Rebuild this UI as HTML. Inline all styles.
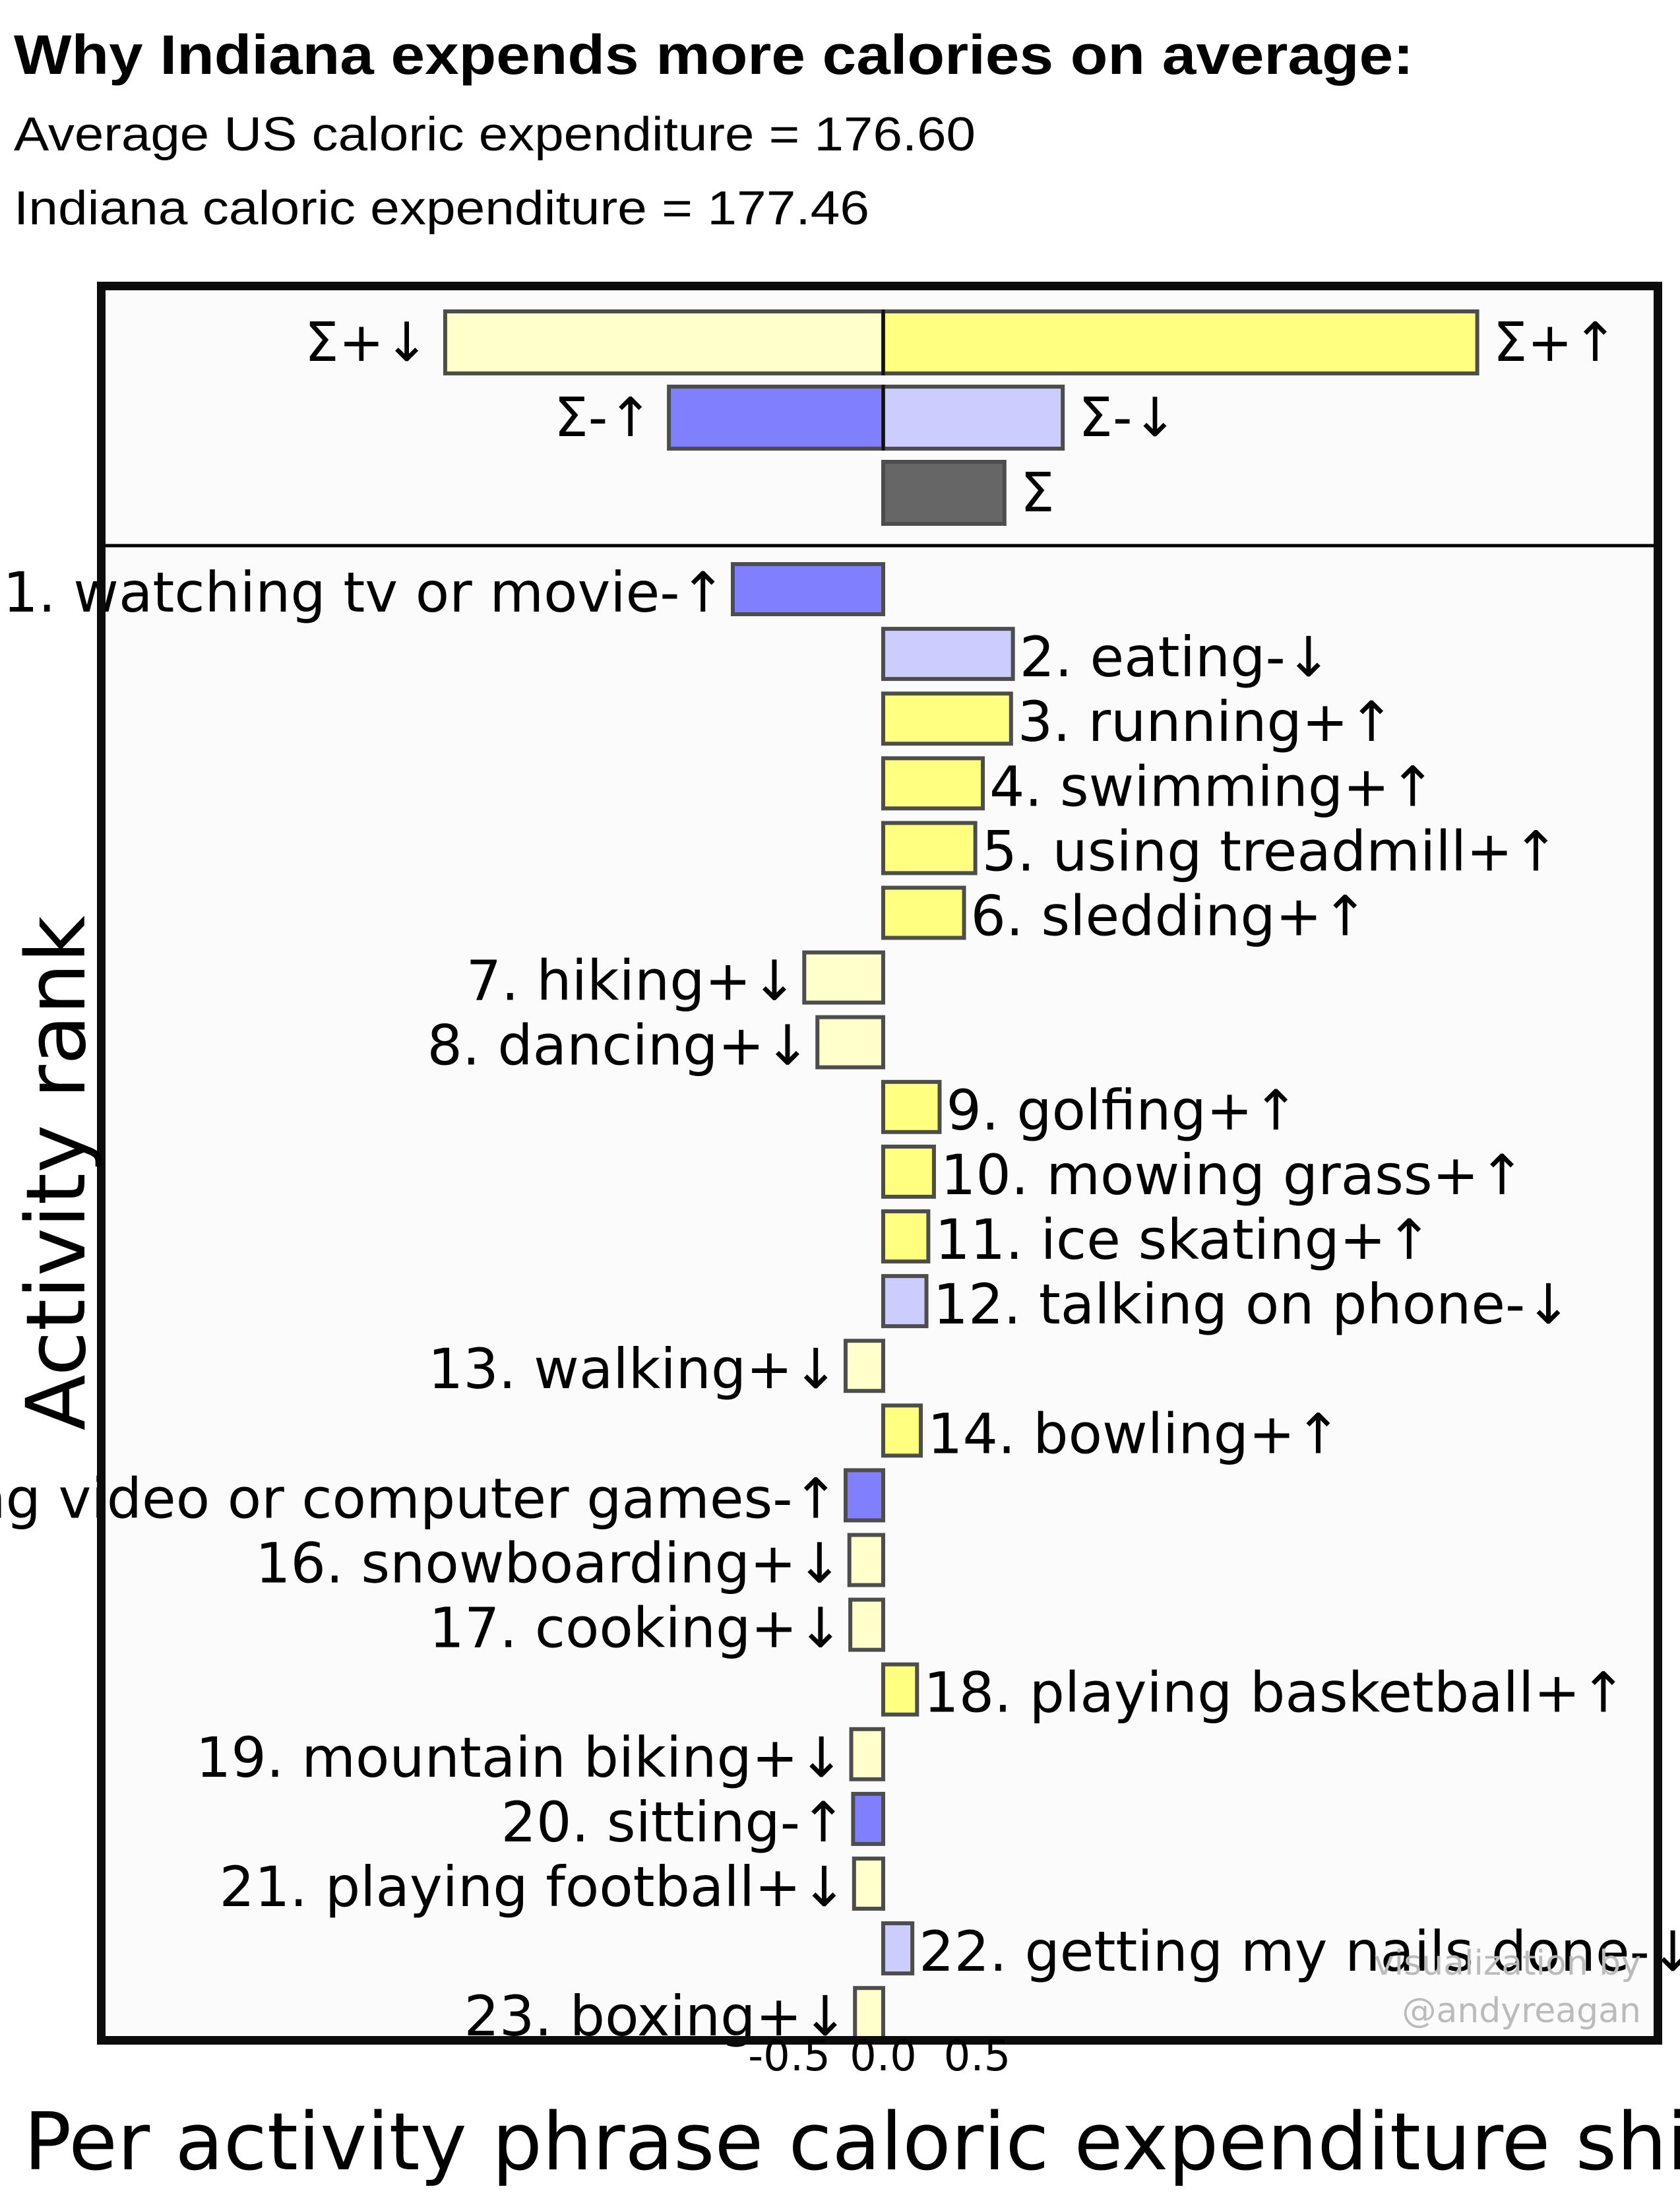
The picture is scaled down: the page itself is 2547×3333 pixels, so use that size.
<!DOCTYPE html>
<html><head><meta charset="utf-8"><style>
html,body{margin:0;padding:0;background:#fff;width:2547px;height:3333px;overflow:hidden}
svg{display:block}
</style></head><body>
<svg id="chart" width="2547" height="3333" xmlns="http://www.w3.org/2000/svg">
<text x="21" y="112" font-family="Liberation Sans, Arial, sans-serif" font-weight="bold" font-size="84" textLength="2122" lengthAdjust="spacingAndGlyphs">Why Indiana expends more calories on average:</text>
<text x="21" y="228" font-family="Liberation Sans, Arial, sans-serif" font-size="72" textLength="1458" lengthAdjust="spacingAndGlyphs">Average US caloric expenditure = 176.60</text>
<text x="21" y="340" font-family="Liberation Sans, Arial, sans-serif" font-size="72" textLength="1297" lengthAdjust="spacingAndGlyphs">Indiana caloric expenditure = 177.46</text>
<rect x="153" y="433" width="2361" height="2660" fill="#fbfbfb"/>
<g id="bars"></g>
<line x1="153" y1="827" x2="2514" y2="827" stroke="#000" stroke-width="5"/>
<rect x="153.5" y="433.5" width="2360" height="2659" fill="none" stroke="#0c0c0c" stroke-width="13"/>
<text x="2488" y="2993" text-anchor="end" font-family="DejaVu Sans, sans-serif" font-size="52" fill="#bbb">visualization by</text>
<text x="2488" y="3065" text-anchor="end" font-family="DejaVu Sans, sans-serif" font-size="52" fill="#bbb">@andyreagan</text>
<g id="ticks"></g>
<text x="36" y="3288" font-family="DejaVu Sans, sans-serif" font-size="120">Per activity phrase caloric expenditure shift</text>
<text transform="translate(128,1778) rotate(-90)" text-anchor="middle" font-family="DejaVu Sans, sans-serif" font-size="124">Activity rank</text>
</svg>
<script>
const activities = ["watching tv or movie","eating","running","swimming","using treadmill","sledding","hiking","dancing","golfing","mowing grass","ice skating","talking on phone","walking","bowling","playing video or computer games","snowboarding","cooking","playing basketball","mountain biking","sitting","playing football","getting my nails done","boxing"];
const shifts = [-0.80,0.69,0.68,0.53,0.49,0.43,-0.42,-0.35,0.30,0.27,0.24,0.23,-0.20,0.20,-0.20,-0.18,-0.175,0.18,-0.17,-0.16,-0.155,0.155,-0.15];
const kinds = ["-↑","-↓","+↑","+↑","+↑","+↑","+↓","+↓","+↑","+↑","+↑","-↓","+↓","+↑","-↑","+↓","+↓","+↑","+↓","-↑","+↓","-↓","+↓"];
const summaryLabels = ["Σ+↓","Σ+↑","Σ-↑","Σ-↓","Σ"];
const summaryValues = [-2.33,3.16,-1.14,0.955,0.645];
const summaryRows = [0,0,1,1,2];
const tickValues = [-0.5,0.0,0.5];
const tickLabels = ["-0.5","0.0","0.5"];

const NS="http://www.w3.org/2000/svg";
const X0=1339, PXU=285;
const xs=v=>X0+v*PXU;
const rowY=i=>893+i*98.1;
const sumY=i=>519+i*114;
const colors={"+↑":"#ffff80","+↓":"#ffffcc","-↑":"#8080ff","-↓":"#ccccff"};
const sumColors=["#ffffcc","#ffff80","#8080ff","#ccccff","#666666"];
const bars=document.getElementById('bars');
function mk(t,a){const e=document.createElementNS(NS,t);for(const k in a)e.setAttribute(k,a[k]);return e;}
summaryValues.forEach((v,i)=>{
  const cy=sumY(summaryRows[i]);
  const x1=Math.min(xs(0),xs(v)),w=Math.abs(xs(v)-xs(0));
  const r=mk('rect',{x:x1,y:cy-47,width:w,height:94,fill:sumColors[i],stroke:"#4d4d4d","stroke-width":6});
  
  
  bars.appendChild(r);
  const t=mk('text',{x:v<0?x1-24:x1+w+24,y:cy+28,"text-anchor":v<0?"end":"start","font-family":"DejaVu Sans, sans-serif","font-size":82});
  t.textContent=summaryLabels[i];
  
  
  bars.appendChild(t);
});
[0,1].forEach(i=>{
  const cy=sumY(i);
  const l=mk('line',{x1:X0,x2:X0,y1:cy-50,y2:cy+50,stroke:"#111","stroke-width":5});
  
  
  bars.appendChild(l);
});
activities.forEach((a,i)=>{
  const v=shifts[i],cy=rowY(i);
  const x1=Math.min(xs(0),xs(v)),w=Math.abs(xs(v)-xs(0));
  const r=mk('rect',{x:x1,y:cy-38,width:w,height:76,fill:colors[kinds[i]],stroke:"#4d4d4d","stroke-width":6});
  
  
  bars.appendChild(r);
  const t=mk('text',{x:v<0?x1-10:x1+w+10,y:cy+34,"text-anchor":v<0?"end":"start","font-family":"DejaVu Sans, sans-serif","font-size":84});
  t.textContent=(i+1)+". "+a+kinds[i];
  
  
  bars.appendChild(t);
});
const ticks=document.getElementById('ticks');
tickValues.forEach((v,i)=>{
  const t=mk('text',{x:xs(v),y:3138,"text-anchor":"middle","font-family":"DejaVu Sans, sans-serif","font-size":64});
  t.textContent=tickLabels[i];
  
  
  ticks.appendChild(t);
});
</script>
</body></html>
